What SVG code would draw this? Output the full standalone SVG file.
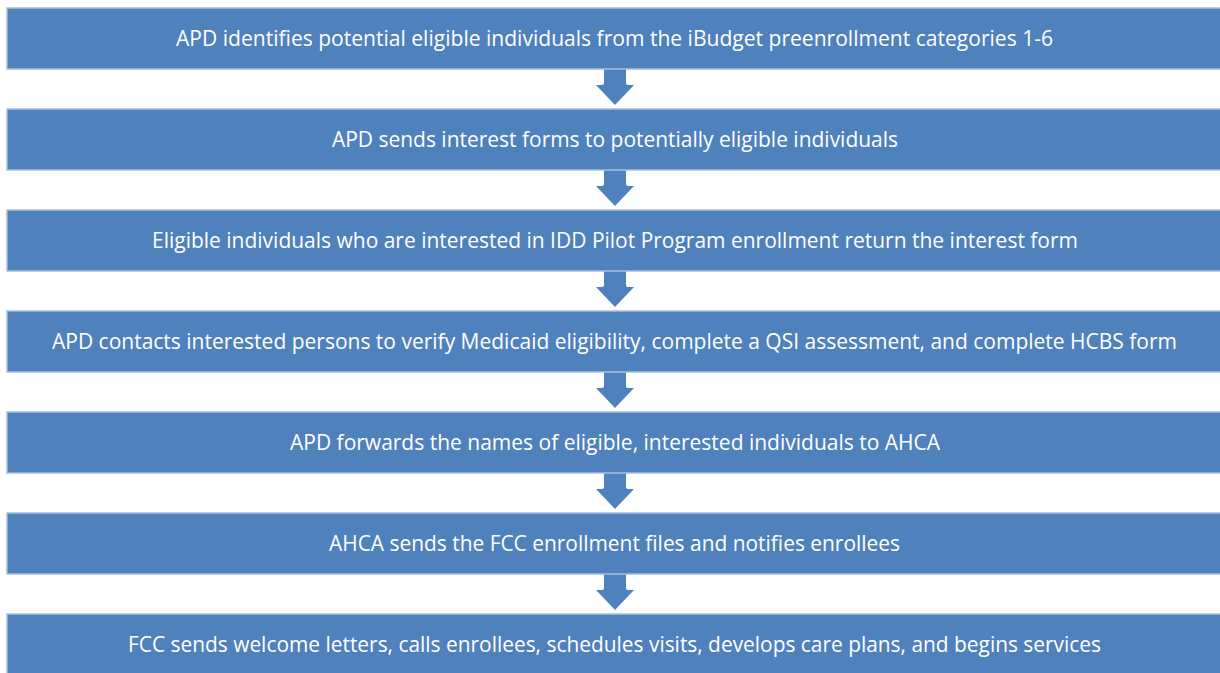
<svg xmlns="http://www.w3.org/2000/svg" width="1220" height="673" viewBox="0 0 1220 673">
  <defs>
    <style>
      .step rect { fill: #4F81BD; stroke: #A7BFDE; stroke-width: 1.5; }
      .step text { fill: #FFFFFF; font-family: "Open Sans", "Liberation Sans", sans-serif; font-size: 21.5px; text-anchor: middle; }
      .arrow { fill: #4F81BD; }
    </style>
    <!-- down arrow with rounded shaft corners, origin at shaft top centre -->
    <path id="down" d="M-11,0 L11,0 L11,14 Q11,16 13,16 L19,16 L0,36 L-19,16 L-13,16 Q-11,16 -11,14 Z"/>
  </defs>
  <rect width="1220" height="673" fill="#FFFFFF"/>

  <g id="connectors">
    <use href="#down" class="arrow" x="615" y="69"/>
    <use href="#down" class="arrow" x="615" y="170"/>
    <use href="#down" class="arrow" x="615" y="271"/>
    <use href="#down" class="arrow" x="615" y="372"/>
    <use href="#down" class="arrow" x="615" y="473"/>
    <use href="#down" class="arrow" x="615" y="574"/>
  </g>

  <g id="step1" class="step">
    <rect x="7" y="8" width="1216" height="61"/>
    <text x="614.5" y="46" textLength="877" lengthAdjust="spacingAndGlyphs">APD identifies potential eligible individuals from the iBudget preenrollment categories 1-6</text>
  </g>
  <g id="step2" class="step">
    <rect x="7" y="109" width="1216" height="61"/>
    <text x="615" y="147" textLength="566" lengthAdjust="spacingAndGlyphs">APD sends interest forms to potentially eligible individuals</text>
  </g>
  <g id="step3" class="step">
    <rect x="7" y="210" width="1216" height="61"/>
    <text x="615" y="248" textLength="926" lengthAdjust="spacingAndGlyphs">Eligible individuals who are interested in IDD Pilot Program enrollment return the interest form</text>
  </g>
  <g id="step4" class="step">
    <rect x="7" y="311" width="1216" height="61"/>
    <text x="614.5" y="349" textLength="1125" lengthAdjust="spacingAndGlyphs">APD contacts interested persons to verify Medicaid eligibility, complete a QSI assessment, and complete HCBS form</text>
  </g>
  <g id="step5" class="step">
    <rect x="7" y="412" width="1216" height="61"/>
    <text x="615" y="450" textLength="650" lengthAdjust="spacingAndGlyphs">APD forwards the names of eligible, interested individuals to AHCA</text>
  </g>
  <g id="step6" class="step">
    <rect x="7" y="513" width="1216" height="61"/>
    <text x="614.5" y="551" textLength="571" lengthAdjust="spacingAndGlyphs">AHCA sends the FCC enrollment files and notifies enrollees</text>
  </g>
  <g id="step7" class="step">
    <rect x="7" y="614" width="1216" height="61"/>
    <text x="614.5" y="652" textLength="973" lengthAdjust="spacingAndGlyphs">FCC sends welcome letters, calls enrollees, schedules visits, develops care plans, and begins services</text>
  </g>
</svg>
